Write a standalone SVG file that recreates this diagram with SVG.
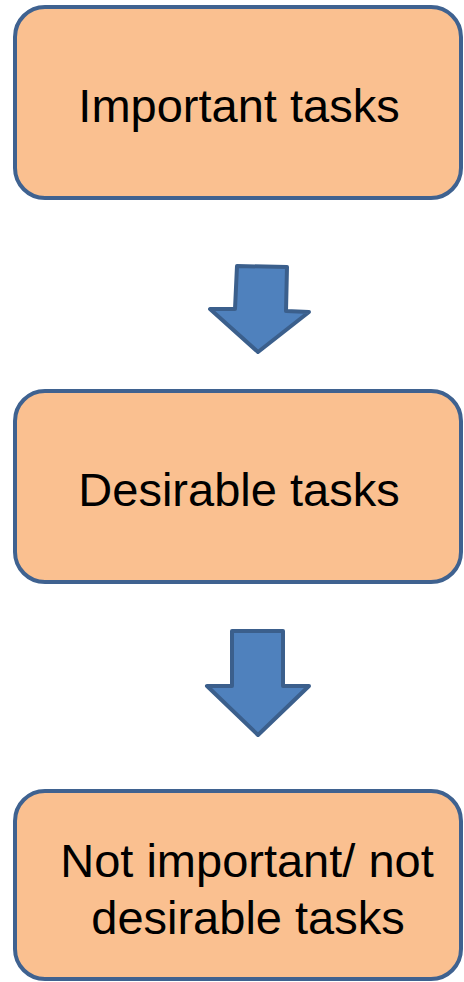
<svg xmlns="http://www.w3.org/2000/svg" width="464" height="982" viewBox="0 0 464 982">
<style>
.box{fill:#FAC090;stroke:#3F6290;stroke-width:4}
.lbl{font-family:"Liberation Sans",Arial,sans-serif;font-size:47px;fill:#000;text-anchor:middle}
.arr{fill:#4F81BD;stroke:#3B5F8C;stroke-width:4;stroke-linejoin:round}
</style>
<rect width="464" height="982" fill="#fff"/>
<g id="node1"><rect class="box" x="15" y="7" width="446" height="191" rx="30"/><text class="lbl" x="239" y="122">Important tasks</text></g>
<g id="node2"><rect class="box" x="15" y="391" width="446" height="191" rx="30"/><text class="lbl" x="239" y="506">Desirable tasks</text></g>
<g id="node3"><rect class="box" x="15" y="791" width="446" height="188" rx="30"/><text class="lbl" x="247" y="877">Not important/ not</text><text class="lbl" x="248" y="934">desirable tasks</text></g>
<g id="connectors">
<polygon class="arr" points="237,266 287,267 286,311 309,312 258,352 210,309 235,309"/>
<polygon class="arr" points="232,631 283,631 283,686 309,686 258,735 207,686 232,686"/>
</g>
</svg>
